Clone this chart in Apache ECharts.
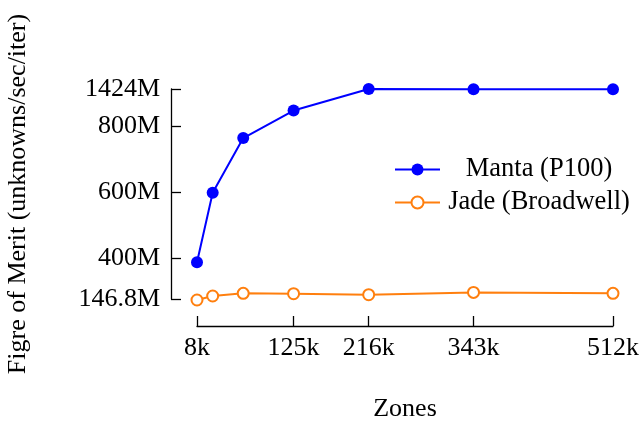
<!DOCTYPE html>
<html>
<head>
<meta charset="utf-8">
<script src="https://cdn.jsdelivr.net/npm/echarts@6/dist/echarts.min.js"></script>
<style>
  html, body { margin: 0; padding: 0; background: #fff; }
  #chart { width: 642px; height: 422px; }
</style>
</head>
<body>
<div id="chart"></div>
<script>
// zones, in thousands
var zones = [8, 27, 64, 125, 216, 343, 512];
var xTicks = [8, 125, 216, 343, 512];

// figure of merit, read in the plot's own vertical units
var manta = [388, 598, 763, 846, 911, 910, 910];
var jade = [274, 286, 294, 293, 290, 297, 294];

// the y ticks sit at these plot units but carry these labels
var yTickVals = [277, 400, 600, 800, 911];
var yTickLabels = ['146.8M', '400M', '600M', '800M', '1424M'];

var font = 'Liberation Serif';

function pairs(xs, ys) {
    var out = [];
    for (var i = 0; i < xs.length; i++) {
        out.push([xs[i], ys[i]]);
    }
    return out;
}

var chart = echarts.init(document.getElementById('chart'));

var option = {
    animation: false,
    textStyle: { fontFamily: font },
    grid: {
        left: 197,
        right: 29,
        top: 89,
        bottom: 123,
        containLabel: false,
        outerBoundsMode: 'none'
    },
    legend: {
        orient: 'vertical',
        left: 394,
        top: 156,
        padding: 0,
        itemWidth: 45,
        itemHeight: 15,
        itemGap: 6,
        data: ['Manta (P100)', 'Jade (Broadwell)'],
        formatter: '{a|{name}}',
        textStyle: {
            rich: {
                a: {
                    width: 188,
                    align: 'center',
                    fontFamily: font,
                    fontSize: 26.5,
                    lineHeight: 30,
                    color: '#000'
                }
            }
        }
    },
    xAxis: {
        type: 'value',
        min: 8,
        max: 512,
        offset: 27,
        name: 'Zones',
        nameLocation: 'middle',
        nameGap: 70,
        nameTextStyle: { fontFamily: font, fontSize: 26, color: '#000' },
        splitLine: { show: false },
        axisLine: { show: true, lineStyle: { color: '#000', width: 1.3 } },
        axisTick: {
            show: true,
            inside: true,
            length: 10,
            customValues: xTicks,
            lineStyle: { color: '#000', width: 1.3 }
        },
        axisLabel: {
            customValues: xTicks,
            margin: 9,
            fontFamily: font,
            fontSize: 26,
            color: '#000',
            formatter: function (v) { return v + 'k'; }
        }
    },
    yAxis: {
        type: 'value',
        min: 277,
        max: 911,
        offset: 26,
        name: 'Figre of Merit (unknowns/sec/iter)',
        nameLocation: 'middle',
        nameGap: 140,
        nameTextStyle: { fontFamily: font, fontSize: 26, color: '#000' },
        splitLine: { show: false },
        axisLine: { show: true, lineStyle: { color: '#000', width: 1.3 } },
        axisTick: {
            show: true,
            inside: true,
            length: 10,
            customValues: yTickVals,
            lineStyle: { color: '#000', width: 1.3 }
        },
        axisLabel: {
            customValues: yTickVals,
            margin: 11,
            fontFamily: font,
            fontSize: 26,
            color: '#000',
            formatter: function (v) {
                for (var i = 0; i < yTickVals.length; i++) {
                    if (Math.abs(yTickVals[i] - v) < 0.5) return yTickLabels[i];
                }
                return '';
            }
        }
    },
    series: [
        {
            name: 'Manta (P100)',
            type: 'line',
            data: pairs(zones, manta),
            clip: false,
            symbol: 'circle',
            symbolSize: 12,
            lineStyle: { color: '#0000ff', width: 2 },
            itemStyle: { color: '#0000ff' },
            emphasis: { disabled: true }
        },
        {
            name: 'Jade (Broadwell)',
            type: 'line',
            data: pairs(zones, jade),
            clip: false,
            symbol: 'emptyCircle',
            symbolSize: 11,
            lineStyle: { color: '#ff7f0e', width: 2 },
            itemStyle: { color: '#ff7f0e', borderWidth: 1.6 },
            emphasis: { disabled: true }
        }
    ]
};

chart.setOption(option);
</script>
</body>
</html>
